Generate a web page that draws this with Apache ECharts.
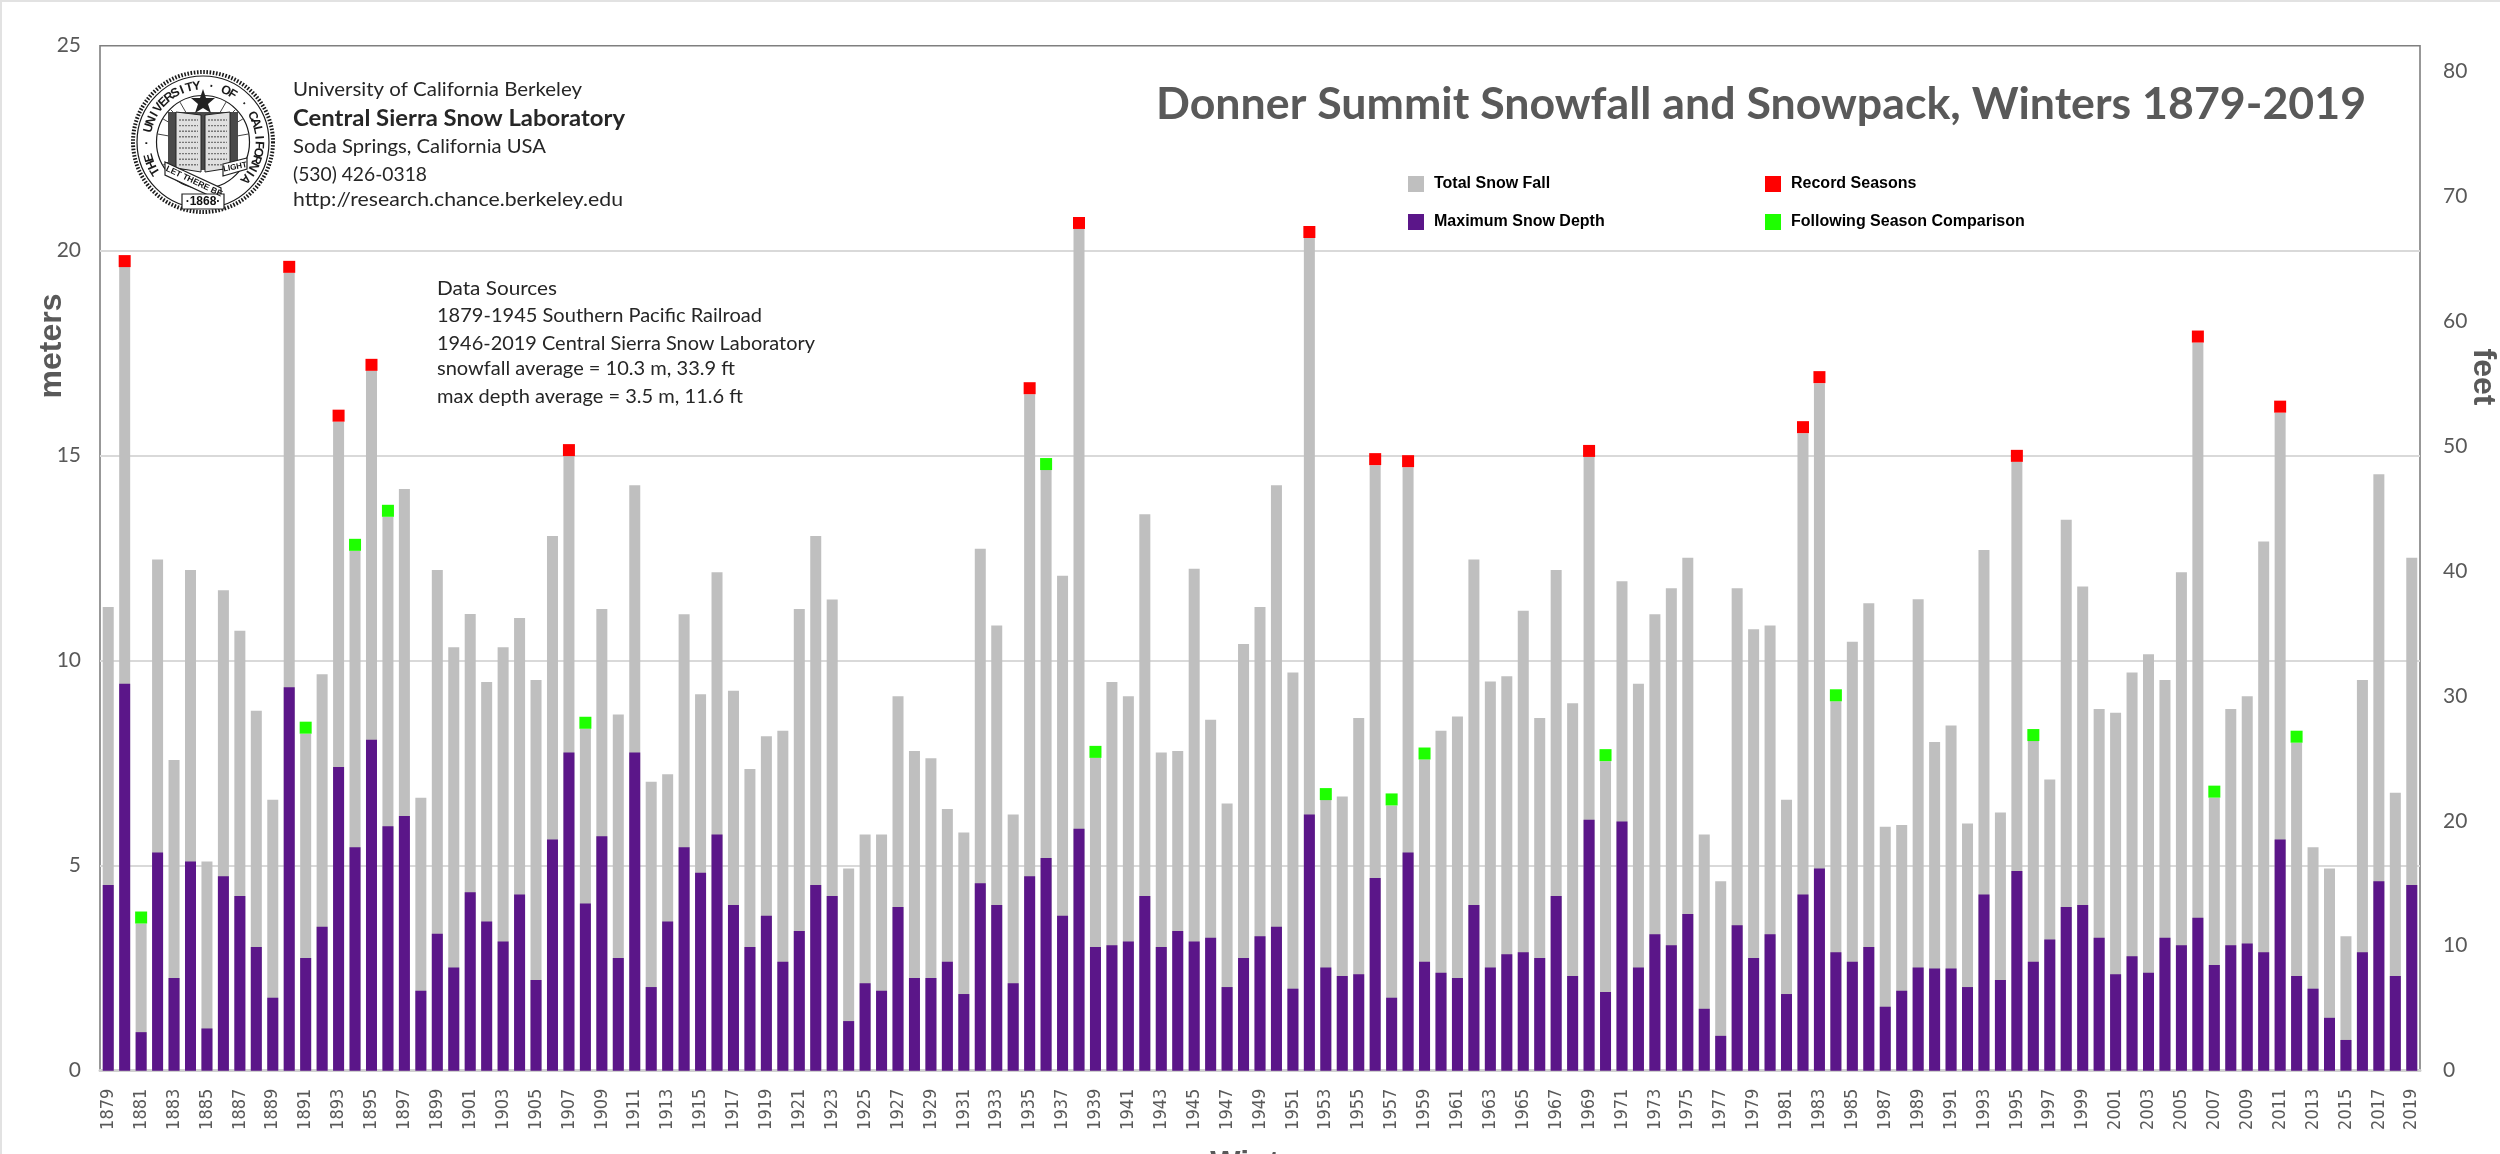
<!DOCTYPE html>
<html>
<head>
<meta charset="utf-8">
<style>html,body{margin:0;padding:0;background:#fff;overflow:hidden}#chart{width:2500px;height:1154px}</style>
<script src="https://cdn.jsdelivr.net/npm/echarts@6/dist/echarts.min.js"></script>
</head>
<body>
<div id="chart"></div>
<script>
const firstYear = 1879;
const years = [];
for (let y = firstYear; y <= 2019; y++) years.push(String(y));

const totalSnowFall = [
 11.31,19.60,3.59,12.47,7.58,12.21,5.10,11.72,10.73,8.78,
 6.61,19.46,8.22,9.67,15.83,12.68,17.07,13.51,14.19,6.66,
 12.21,10.33,11.14,9.48,10.33,11.04,9.53,13.04,14.99,8.34,
 11.26,8.69,14.28,7.05,7.23,11.13,9.18,12.16,9.27,7.36,
 8.16,8.29,11.26,13.04,11.49,4.93,5.76,5.76,9.13,7.80,
 7.62,6.38,5.81,12.73,10.86,6.25,16.50,14.65,12.07,20.53,
 7.63,9.48,9.13,13.57,7.76,7.80,12.24,8.56,6.52,10.41,
 11.31,14.28,9.71,20.31,6.60,6.69,8.60,14.77,6.47,14.72,
 7.59,8.29,8.64,12.47,9.49,9.62,11.22,8.60,12.21,8.96,
 14.97,7.55,11.94,9.44,11.13,11.77,12.51,5.76,4.62,11.77,
 10.77,10.86,6.61,15.55,16.77,9.01,10.46,11.40,5.95,5.99,
 11.50,8.02,8.42,6.03,12.70,6.30,14.85,8.04,7.10,13.44,
 11.81,8.82,8.73,9.71,10.16,9.53,12.16,17.76,6.66,8.82,
 9.13,12.91,16.05,8.00,5.45,4.93,3.28,9.53,14.55,6.78,12.51
];
const maxSnowDepth = [
 4.53,9.44,0.94,5.32,2.26,5.10,1.03,4.74,4.26,3.02,
 1.78,9.35,2.75,3.51,7.41,5.45,8.07,5.96,6.21,1.95,
 3.34,2.52,4.35,3.64,3.15,4.30,2.21,5.64,7.76,4.08,
 5.72,2.75,7.76,2.04,3.64,5.45,4.83,5.76,4.04,3.02,
 3.78,2.66,3.41,4.53,4.26,1.21,2.13,1.95,3.99,2.26,
 2.26,2.66,1.87,4.57,4.04,2.13,4.74,5.19,3.78,5.90,
 3.02,3.06,3.15,4.26,3.02,3.41,3.15,3.24,2.04,2.75,
 3.28,3.51,2.00,6.25,2.52,2.31,2.35,4.70,1.78,5.32,
 2.66,2.39,2.26,4.04,2.52,2.84,2.89,2.75,4.26,2.31,
 6.12,1.92,6.08,2.52,3.33,3.06,3.82,1.51,0.85,3.55,
 2.75,3.33,1.87,4.30,4.93,2.89,2.66,3.02,1.56,1.95,
 2.52,2.49,2.49,2.04,4.30,2.21,4.87,2.66,3.20,3.99,
 4.04,3.24,2.35,2.79,2.39,3.24,3.06,3.73,2.58,3.06,
 3.10,2.89,5.64,2.31,2.00,1.29,0.75,2.89,4.62,2.31,4.53
];
const recordYears = [1880,1890,1893,1895,1907,1935,1938,1952,1956,1958,1969,1982,1983,1995,2006,2011];
const followingYears = [1881,1891,1894,1896,1908,1936,1939,1953,1957,1959,1970,1984,1996,2007,2012];

const titleText = 'Donner Summit Snowfall and Snowpack, Winters 1879-2019';
const instituteLines = ['University of California Berkeley','Central Sierra Snow Laboratory','Soda Springs, California USA','(530) 426-0318','http://research.chance.berkeley.edu'];
const sourceLines = ['Data Sources','1879-1945 Southern Pacific Railroad','1946-2019 Central Sierra Snow Laboratory','snowfall average = 10.3 m, 33.9 ft','max depth average = 3.5 m, 11.6 ft'];
const sealTop = 'THE · UNIVERSITY · OF · CALIFORNIA';

const INK = '#595959';
const measure = document.createElement('canvas').getContext('2d');
function fitted(text, x, y, width, font, fill) {
  measure.font = font;
  return { type:'text', x, y, scaleX: width / measure.measureText(text).width, z: 20,
    style:{ text, x:0, y:0, font, fill, align:'left', verticalAlign:'middle' } };
}
const marks = list => list.map(y => [String(y), totalSnowFall[y - firstYear]]);

const graphics = [];
// page edge
graphics.push({type:'rect', z:1, shape:{x:0,y:0,width:2500,height:2}, style:{fill:'#e2e2e2'}});
graphics.push({type:'rect', z:1, shape:{x:0,y:0,width:2,height:1154}, style:{fill:'#e2e2e2'}});

// axis titles set off-centre, as in the reference
const axisTitle = (text, x, y, rotation) => ({type:'text', z:20, x, y, rotation,
  style:{text, x:0, y:0, font:'bold 32px "Liberation Sans"', fill:INK, align:'center', verticalAlign:'middle'}});
graphics.push(axisTitle('meters', 52, 346, Math.PI/2), axisTitle('feet', 2483, 377, -Math.PI/2));

// institute block
const instWidths = [289,332,253,134,330];
const instY = [90,119,147,175,200];
instituteLines.forEach((t,i) => graphics.push(fitted(t, 293, instY[i], instWidths[i],
  (i===1 ? 'bold 22px Lato' : '20px Lato'), '#262626')));
// sources block
const srcWidths = [120,325,378,298,306];
const srcY = [289,316,344,369,397];
sourceLines.forEach((t,i) => graphics.push(fitted(t, 437, srcY[i], srcWidths[i], '19.5px Lato', '#262626')));

// seal
const cx = 203, cy = 142;
const ring = (r, lw, dash) => ({type:'circle', z:20, shape:{cx,cy,r}, style:{fill:null, stroke:'#1a1a1a', lineWidth:lw, lineDash:dash||null}});
graphics.push(ring(70,4,[1.6,1.6]), ring(66,1.2), ring(46.5,1.2));
const letters = sealTop.split('');
const a0 = -Math.PI*1.175, a1 = Math.PI*0.23;
letters.forEach((ch,i) => {
  const a = a0 + (a1-a0)*i/(letters.length-1);
  graphics.push({type:'text', z:20, x:cx+56*Math.cos(a), y:cy+56*Math.sin(a), rotation:-(a+Math.PI/2),
    style:{text:ch, x:0, y:0, font:'bold 12.5px "Liberation Sans"', fill:'#1a1a1a', align:'center', verticalAlign:'middle'}});
});
// hatching inside the inner disc
[-150,-135,-120,-60,-45,-30,30,150,-170,-10].forEach(d => {
  const a = d*Math.PI/180;
  graphics.push({type:'line', z:20, shape:{x1:cx+22*Math.cos(a),y1:cy+22*Math.sin(a),x2:cx+46*Math.cos(a),y2:cy+46*Math.sin(a)}, style:{stroke:'#444',lineWidth:1}});
});
graphics.push({type:'polygon', z:21, shape:{points:[[cx,cy-53],[cx+3,cy-44],[cx+12,cy-44],[cx+5,cy-38],[cx+8,cy-29],[cx,cy-34],[cx-8,cy-29],[cx-5,cy-38],[cx-12,cy-44],[cx-3,cy-44]]}, style:{fill:'#222'}});
// book
graphics.push({type:'rect', z:20, shape:{x:cx-35,y:cy-30,width:70,height:58}, style:{fill:'#4a4a4a'}});
graphics.push({type:'polygon', z:21, shape:{points:[[cx-27,cy-30],[cx-2,cy-27],[cx-2,cy+30],[cx-27,cy+26]]}, style:{fill:'#e0e0e0',stroke:'#222',lineWidth:1}});
graphics.push({type:'polygon', z:21, shape:{points:[[cx+27,cy-30],[cx+2,cy-27],[cx+2,cy+30],[cx+27,cy+26]]}, style:{fill:'#e0e0e0',stroke:'#222',lineWidth:1}});
for (let k=0;k<9;k++){
  const yy = cy-22+k*5.6;
  graphics.push({type:'line', z:22, shape:{x1:cx-24,y1:yy,x2:cx-5,y2:yy}, style:{stroke:'#777',lineWidth:1.4,lineDash:[2,1]}});
  graphics.push({type:'line', z:22, shape:{x1:cx+5,y1:yy,x2:cx+24,y2:yy}, style:{stroke:'#777',lineWidth:1.4,lineDash:[2,1]}});
}
// ribbons and year
graphics.push({type:'polygon', z:23, shape:{points:[[cx-38,cy+20],[cx+18,cy+46],[cx+18,cy+59],[cx-38,cy+33]]}, style:{fill:'#fff',stroke:'#222',lineWidth:1.2}});
graphics.push({type:'polygon', z:23, shape:{points:[[cx+20,cy+22],[cx+44,cy+16],[cx+44,cy+27],[cx+20,cy+34]]}, style:{fill:'#fff',stroke:'#222',lineWidth:1.2}});
graphics.push({type:'text', z:24, x:cx-9, y:cy+39.5, rotation:-0.44, style:{text:'LET THERE BE', x:0,y:0,font:'bold 8.5px "Liberation Sans"',fill:'#111',align:'center',verticalAlign:'middle'}});
graphics.push({type:'text', z:24, x:cx+32, y:cy+25, rotation:0.2, style:{text:'LIGHT', x:0,y:0,font:'bold 8px "Liberation Sans"',fill:'#111',align:'center',verticalAlign:'middle'}});
graphics.push({type:'rect', z:23, shape:{x:cx-21,y:cy+52,width:42,height:15}, style:{fill:'#fff',stroke:'#222',lineWidth:1.2}});
graphics.push({type:'text', z:24, x:cx, y:cy+60, style:{text:'·1868·', x:0,y:0,font:'bold 12px "Liberation Sans"',fill:'#111',align:'center',verticalAlign:'middle'}});

const legendBase = { orient:'horizontal', icon:'rect', itemWidth:16, itemHeight:16, itemGap:0, selectedMode:false,
  textStyle:{ color:'#000', fontFamily:'"Liberation Sans"', fontWeight:'bold', fontSize:16, padding:[0,0,0,5] }, padding:0 };

const option = {
  animation:false,
  backgroundColor:'#fff',
  title:{ text:titleText, left:1156, top:82, padding:0,
    textStyle:{ fontFamily:'Lato', fontWeight:'bold', fontSize:44.7, color:INK } },
  legend:[
    {...legendBase, data:['Total Snow Fall'], left:1408, top:176},
    {...legendBase, data:['Maximum Snow Depth'], left:1408, top:214},
    {...legendBase, data:['Record Seasons'], left:1765, top:176},
    {...legendBase, data:['Following Season Comparison'], left:1765, top:214}
  ],
  grid:{ left:100, right:80, top:45.7, bottom:83.3, show:true, backgroundColor:'#fff', borderColor:'#7F7F7F', borderWidth:1.6, outerBoundsMode:'none' },
  xAxis:{ type:'category', data:years, name:'Winter', nameLocation:'middle', nameGap:77,
    nameTextStyle:{ fontFamily:'"Liberation Sans"', fontWeight:'bold', fontSize:32, color:INK, verticalAlign:'top' },
    axisTick:{show:false},
    axisLine:{ lineStyle:{ color:'#CFCFCF', width:3 } },
    axisLabel:{ interval:1, rotate:90, margin:18, fontFamily:'"DejaVu Sans Condensed","DejaVu Sans"', fontSize:18, color:INK } },
  yAxis:[
    { type:'value', min:0, max:25, interval:5,
      axisLine:{show:false}, axisTick:{show:false},
      axisLabel:{ fontFamily:'"Liberation Sans Narrow",Lato', fontSize:21, color:INK, margin:19 },
      splitLine:{ show:true, showMinLine:false, showMaxLine:false, lineStyle:{ color:'#D9D9D9', width:2 } } },
    { type:'value', min:0, max:82.02, interval:10, position:'right',
      axisLine:{show:false}, axisTick:{show:false},
      axisLabel:{ fontFamily:'"Liberation Sans Narrow",Lato', fontSize:21, color:INK, margin:23, showMaxLabel:false,
        formatter:v => (v % 10 === 0 ? String(v) : '') },
      splitLine:{show:false} }
  ],
  series:[
    { name:'Total Snow Fall', type:'bar', data:totalSnowFall, barWidth:11, barGap:'-100%', itemStyle:{color:'#BFBFBF'}, z:2 },
    { name:'Maximum Snow Depth', type:'bar', data:maxSnowDepth, barWidth:11, itemStyle:{color:'#5B1689'}, z:3 },
    { name:'Record Seasons', type:'scatter', data:marks(recordYears), symbol:'rect', symbolSize:[12,12], symbolOffset:[0,-6], itemStyle:{color:'#FF0000', opacity:1}, z:4 },
    { name:'Following Season Comparison', type:'scatter', data:marks(followingYears), symbol:'rect', symbolSize:[12,12], symbolOffset:[0,-6], itemStyle:{color:'#1EFF00', opacity:1}, z:4 }
  ],
  graphic:{ elements:graphics }
};
const chart = echarts.init(document.getElementById('chart'), null, {renderer:'canvas', width:2500, height:1154});
chart.setOption(option);
</script>
</body>
</html>
